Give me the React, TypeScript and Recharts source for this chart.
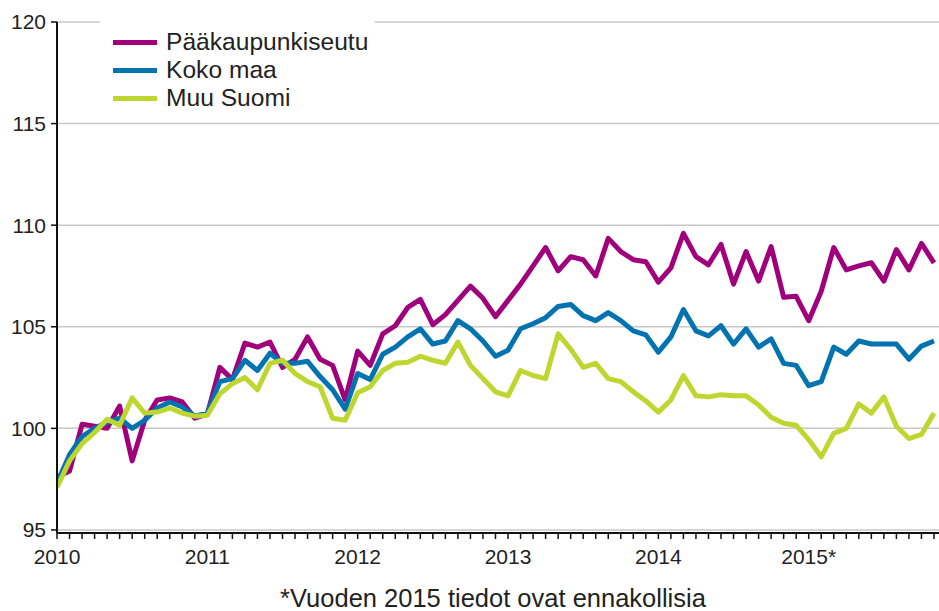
import React from 'react';
import { LineChart, Line, XAxis, YAxis, CartesianGrid } from 'recharts';

const years = ['2010', '2011', '2012', '2013', '2014', '2015*'];
const seriesNames = ['Pääkaupunkiseutu', 'Koko maa', 'Muu Suomi'];
const seriesColors = ['#A1007D', '#0073B0', '#BED730'];
const yTicks = [95, 100, 105, 110, 115, 120];

const paakaupunkiseutu = [
  97.6, 97.9, 100.2, 100.1, 100.0, 101.1, 98.4, 100.4, 101.4, 101.5, 101.3, 100.5,
  100.7, 103.0, 102.4, 104.2, 104.0, 104.25, 103.0, 103.4, 104.5, 103.4, 103.1, 101.4,
  103.8, 103.1, 104.65, 105.05, 105.95, 106.35, 105.1, 105.6, 106.3, 107.0, 106.4, 105.5,
  106.3, 107.1, 108.0, 108.9, 107.75, 108.45, 108.3, 107.5, 109.35, 108.7, 108.3, 108.2,
  107.2, 107.9, 109.6, 108.45, 108.05, 109.05, 107.1, 108.7, 107.25, 108.95, 106.45, 106.5,
  105.3, 106.75, 108.9, 107.8, 108.0, 108.15, 107.25, 108.8, 107.8, 109.1, 108.15,
];

const kokoMaa = [
  97.3, 98.7, 99.6, 100.0, 100.3, 100.5, 100.0, 100.4, 101.0, 101.3, 101.05, 100.6,
  100.75, 102.3, 102.45, 103.35, 102.85, 103.7, 103.2, 103.2, 103.3, 102.55, 101.9, 100.95,
  102.7, 102.4, 103.65, 104.0, 104.5, 104.9, 104.15, 104.3, 105.3, 104.9, 104.3, 103.55,
  103.85, 104.9, 105.15, 105.45, 106.0, 106.1, 105.55, 105.3, 105.7, 105.3, 104.8, 104.6,
  103.75, 104.5, 105.85, 104.8, 104.55, 105.05, 104.15, 104.9, 104.0, 104.4, 103.2, 103.1,
  102.1, 102.3, 104.0, 103.65, 104.3, 104.15, 104.15, 104.15, 103.4, 104.05, 104.3,
];

const muuSuomi = [
  97.1, 98.4, 99.25, 99.8, 100.45, 100.15, 101.5, 100.75, 100.8, 101.0, 100.75, 100.6,
  100.65, 101.7, 102.2, 102.5, 101.9, 103.2, 103.35, 102.7, 102.3, 102.05, 100.5, 100.4,
  101.75, 102.05, 102.85, 103.2, 103.25, 103.55, 103.35, 103.2, 104.25, 103.1, 102.45, 101.8,
  101.6, 102.85, 102.6, 102.45, 104.65, 103.9, 103.0, 103.2, 102.45, 102.3, 101.8, 101.35,
  100.8, 101.4, 102.6, 101.6, 101.55, 101.65, 101.6, 101.6, 101.15, 100.55, 100.25, 100.15,
  99.45, 98.6, 99.75, 100.0, 101.2, 100.75, 101.55, 100.1, 99.5, 99.7, 100.75,
];

const data = paakaupunkiseutu.map((v, i) => ({
  m: i,
  p: v,
  k: kokoMaa[i],
  s: muuSuomi[i],
}));

const monthTicks = data.map((d) => d.m);
const FONT = '"Liberation Sans", Arial, sans-serif';

const LegendBox = () => (
  <div
    style={{
      position: 'absolute',
      left: 100,
      top: 14,
      width: 275,
      height: 100,
      background: '#fff',
      fontFamily: FONT,
    }}
  >
    {seriesNames.map((name, i) => (
      <div key={name}>
        <div
          style={{
            position: 'absolute',
            left: 13,
            top: 28 + i * 28 - 2.5,
            width: 44,
            height: 5,
            background: seriesColors[i],
          }}
        />
        <div
          style={{
            position: 'absolute',
            left: 66,
            top: 28 + i * 28 - 14,
            fontSize: 24.6,
            lineHeight: '28px',
            color: '#222',
            whiteSpace: 'nowrap',
          }}
        >
          {name}
        </div>
      </div>
    ))}
  </div>
);

export default function App() {
  return (
    <div
      style={{
        position: 'absolute',
        left: 0,
        top: 0,
        width: 939,
        height: 611,
        overflow: 'hidden',
        background: '#fff',
      }}
    >
      <LineChart
        width={939}
        height={611}
        data={data}
        margin={{ top: 22, right: 0, bottom: 0, left: 0 }}
      >
        <CartesianGrid vertical={false} stroke="#c8c8c8" strokeWidth={1.5} />
        <XAxis
          dataKey="m"
          type="number"
          domain={[0, 70.4]}
          allowDataOverflow
          ticks={monthTicks}
          interval={0}
          height={78}
          tickSize={6}
          tickMargin={10}
          tickFormatter={(v: number) => (v % 12 === 0 ? years[v / 12] : '')}
          tick={{ fill: '#222', fontSize: 21, fontFamily: FONT }}
          axisLine={{ stroke: '#111', strokeWidth: 2 }}
          tickLine={{ stroke: '#111', strokeWidth: 1.5 }}
        />
        <YAxis
          type="number"
          domain={[94.85, 120]}
          allowDataOverflow
          ticks={yTicks}
          interval={0}
          width={57}
          tickSize={6}
          tickMargin={5}
          tick={{ fill: '#222', fontSize: 21, fontFamily: FONT }}
          axisLine={{ stroke: '#111', strokeWidth: 2 }}
          tickLine={{ stroke: '#111', strokeWidth: 1.5 }}
        />
        <Line
          type="linear"
          dataKey="p"
          name={seriesNames[0]}
          stroke={seriesColors[0]}
          strokeWidth={5}
          strokeLinejoin="round"
          dot={false}
          activeDot={false}
          isAnimationActive={false}
        />
        <Line
          type="linear"
          dataKey="k"
          name={seriesNames[1]}
          stroke={seriesColors[1]}
          strokeWidth={5}
          strokeLinejoin="round"
          dot={false}
          activeDot={false}
          isAnimationActive={false}
        />
        <Line
          type="linear"
          dataKey="s"
          name={seriesNames[2]}
          stroke={seriesColors[2]}
          strokeWidth={5}
          strokeLinejoin="round"
          dot={false}
          activeDot={false}
          isAnimationActive={false}
        />
      </LineChart>
      <LegendBox />
      <div
        style={{
          position: 'absolute',
          left: 0,
          top: 586,
          width: 986,
          textAlign: 'center',
          fontFamily: FONT,
          fontSize: 25.5,
          lineHeight: '25px',
          color: '#222',
          whiteSpace: 'nowrap',
        }}
      >
        *Vuoden 2015 tiedot ovat ennakollisia
      </div>
    </div>
  );
}
